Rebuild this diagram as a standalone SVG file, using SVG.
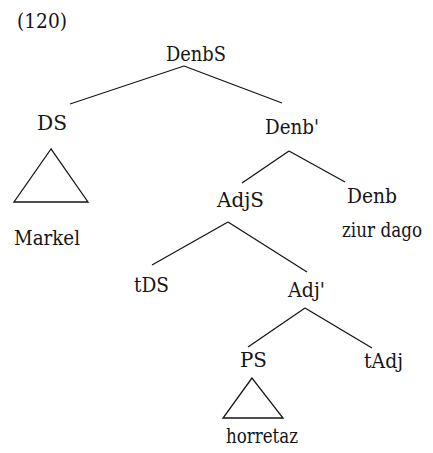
<svg xmlns="http://www.w3.org/2000/svg" width="433" height="453" viewBox="0 0 433 453" font-family="DejaVu Serif, Liberation Serif, serif">
<style>
text{font-size:21px;fill:#151515}
.e{stroke:#151515;stroke-width:1.3;fill:none}
</style>
<rect width="433" height="453" fill="#fff"/>
<text x="17" y="28" font-size="19" textLength="50" lengthAdjust="spacingAndGlyphs">(120)</text>
<g id="connectors">
<line class="e" x1="184" y1="66" x2="70" y2="104"/>
<line class="e" x1="184" y1="66" x2="282" y2="103"/>
<line class="e" x1="289" y1="151" x2="242" y2="183"/>
<line class="e" x1="289" y1="151" x2="345" y2="182"/>
<line class="e" x1="228" y1="222" x2="152" y2="265"/>
<line class="e" x1="228" y1="222" x2="307" y2="272"/>
<line class="e" x1="305" y1="308" x2="248" y2="347"/>
<line class="e" x1="305" y1="308" x2="372" y2="348"/>
</g>
<g id="DenbS"><text x="166" y="61" textLength="60" lengthAdjust="spacingAndGlyphs">DenbS</text></g>
<g id="DS"><text x="37" y="130" textLength="30" lengthAdjust="spacingAndGlyphs">DS</text><polygon class="e" points="51,149 14,202 88,202"/></g>
<g id="Markel"><text x="14" y="245" textLength="66" lengthAdjust="spacingAndGlyphs">Markel</text></g>
<g id="Denb1"><text x="265" y="134" textLength="54" lengthAdjust="spacingAndGlyphs">Denb'</text></g>
<g id="AdjS"><text x="217" y="207" textLength="47" lengthAdjust="spacingAndGlyphs">AdjS</text></g>
<g id="Denb"><text x="347" y="203" textLength="50" lengthAdjust="spacingAndGlyphs">Denb</text><text transform="translate(342,237) scale(0.8,1)" x="0" y="0">ziur dago</text></g>
<g id="tDS"><text x="134" y="292" textLength="35" lengthAdjust="spacingAndGlyphs">tDS</text></g>
<g id="Adj1"><text x="288" y="297" textLength="37" lengthAdjust="spacingAndGlyphs">Adj'</text></g>
<g id="PS"><text x="240" y="367" textLength="27" lengthAdjust="spacingAndGlyphs">PS</text><polygon class="e" points="252,378 223,418 283,418"/></g>
<g id="tAdj"><text x="364" y="368" textLength="39" lengthAdjust="spacingAndGlyphs">tAdj</text></g>
<g id="horretaz"><text x="226" y="443" textLength="72" lengthAdjust="spacingAndGlyphs">horretaz</text></g>
</svg>
